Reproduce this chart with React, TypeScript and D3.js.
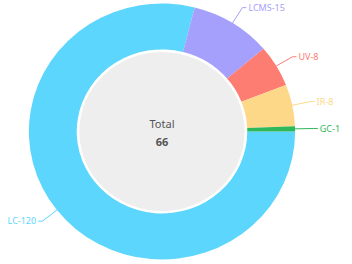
import React, { useEffect, useRef } from "react";
import * as d3 from "d3";

const categories = ["LC", "LCMS", "UV", "IR", "GC"];
const values = [120, 15, 8, 8, 1];
const colors = ["#5cd6fc", "#a5a0fb", "#fd7d72", "#fdd888", "#2fb75c"];
const totalLabel = "Total";
const totalValue = "66";

const W = 352;
const H = 264;

export default function App() {
  const svgRef = useRef<SVGSVGElement>(null);

  useEffect(() => {
    const svg = d3.select(svgRef.current);
    svg.selectAll("*").remove();

    const cx = 162;
    const cy = 131.5;
    const sx = 1.04; // picture is a little wider than tall
    const outer = 128;
    const inner = 82;

    const pie = d3
      .pie<number>()
      .value((d) => d)
      .sort(null)
      .startAngle(Math.PI / 2)
      .endAngle(Math.PI / 2 + Math.PI * 2);

    const arcs = pie(values);
    const arc = d3.arc<d3.PieArcDatum<number>>().innerRadius(inner).outerRadius(outer);

    const ring = svg
      .append("g")
      .attr("transform", `translate(${cx},${cy}) scale(${sx},1)`);

    ring
      .append("circle")
      .attr("r", inner - 2.5)
      .attr("fill", "#eeeeee");

    ring
      .selectAll("path")
      .data(arcs)
      .enter()
      .append("path")
      .attr("d", arc)
      .attr("fill", (d, i) => colors[i]);

    // labels with leader lines
    const pt = (a: number, r: number) => [
      cx + Math.sin(a) * r * sx,
      cy - Math.cos(a) * r,
    ];

    const labels = svg.append("g");
    arcs.forEach((d, i) => {
      const a = (d.startAngle + d.endAngle) / 2;
      const right = Math.sin(a) >= 0;
      const p1 = pt(a, outer);
      const p2 = pt(a, outer + 18);
      const p3 = [p2[0] + (right ? 4 : -4), p2[1]];
      labels
        .append("polyline")
        .attr("points", [p1, p2, p3].map((p) => p.join(",")).join(" "))
        .attr("fill", "none")
        .attr("stroke", colors[i])
        .attr("stroke-width", 1);
      labels
        .append("text")
        .attr("x", p3[0] + (right ? 2 : -2))
        .attr("y", p3[1])
        .attr("dy", "0.35em")
        .attr("text-anchor", right ? "start" : "end")
        .attr("font-size", 9)
        .attr("font-family", "'Noto Sans', sans-serif")
        .attr("fill", colors[i])
        .text(`${categories[i]}-${values[i]}`);
    });

    svg
      .append("text")
      .attr("x", cx)
      .attr("y", cy - 4)
      .attr("text-anchor", "middle")
      .attr("font-size", 11)
      .attr("font-family", "'Noto Sans', sans-serif")
      .attr("fill", "#555")
      .text(totalLabel);

    svg
      .append("text")
      .attr("x", cx)
      .attr("y", cy + 14)
      .attr("text-anchor", "middle")
      .attr("font-size", 11)
      .attr("font-weight", "bold")
      .attr("font-family", "'Noto Sans', sans-serif")
      .attr("fill", "#555")
      .text(totalValue);
  }, []);

  return (
    <svg
      ref={svgRef}
      width={W}
      height={H}
      style={{ position: "absolute", left: 0, top: 0, background: "#fff" }}
    />
  );
}
